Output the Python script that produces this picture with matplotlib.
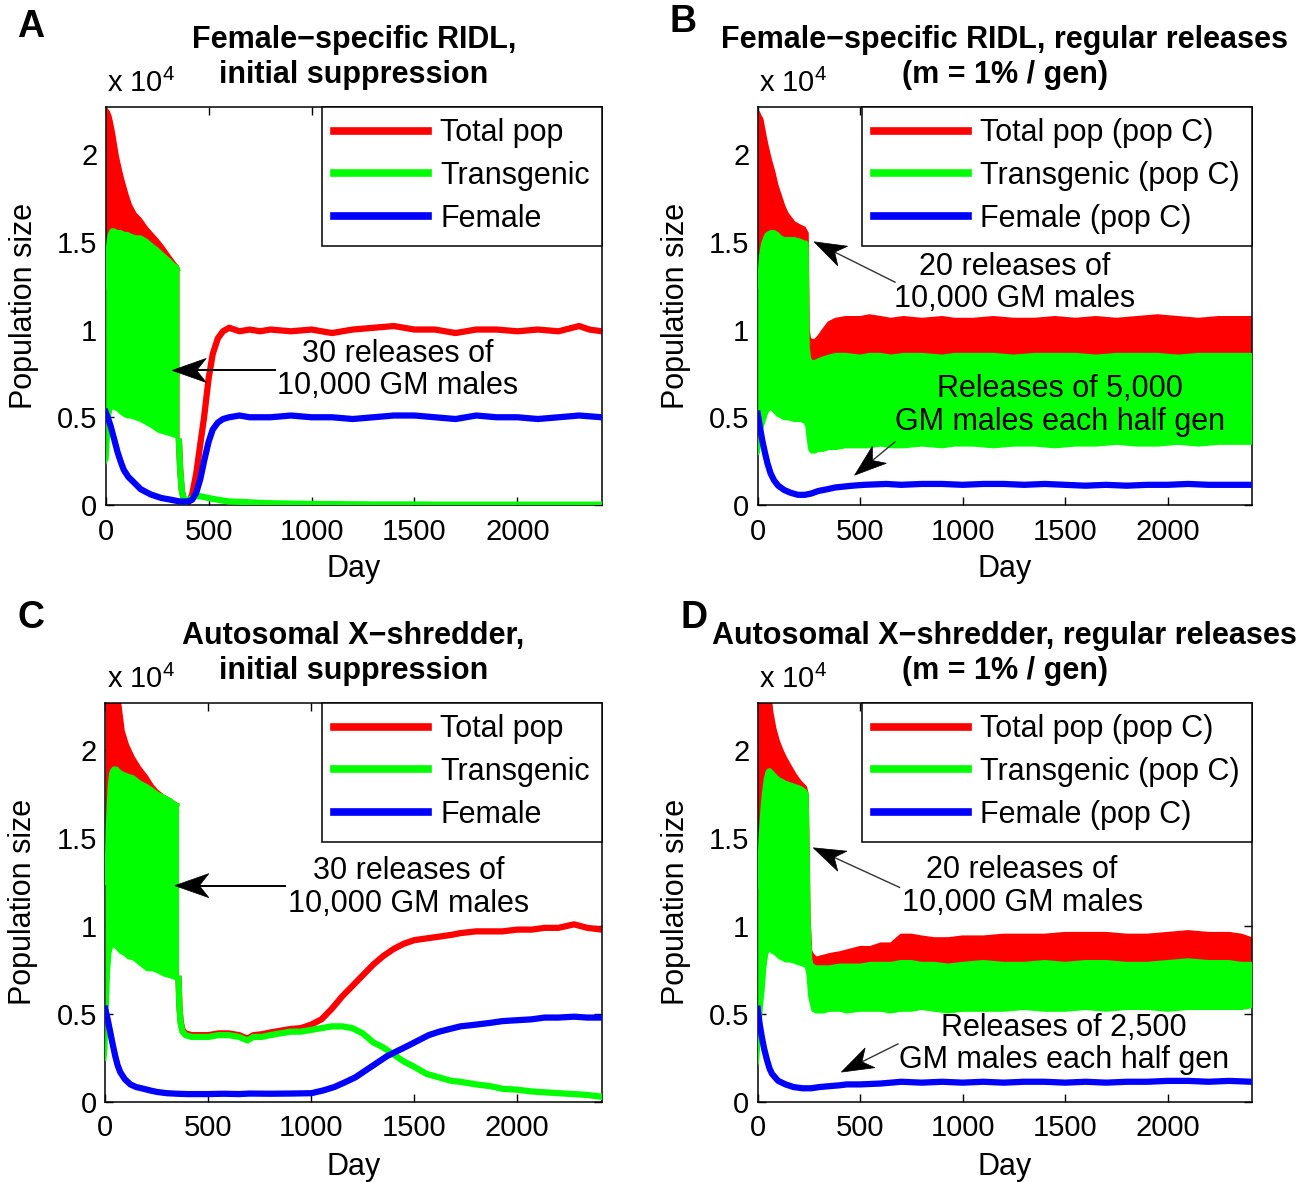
import numpy as np
import matplotlib
matplotlib.use('Agg')
import matplotlib.pyplot as plt
from matplotlib.patches import Polygon
from matplotlib.lines import Line2D
from matplotlib.transforms import IdentityTransform

plt.rcParams['font.family'] = ['Liberation Sans', 'DejaVu Sans']
plt.rcParams['mathtext.fontset'] = 'custom'
plt.rcParams['mathtext.rm'] = 'Liberation Sans'
plt.rcParams['mathtext.it'] = 'Liberation Sans'

# ---------------- data (population in units of 10^4) ----------------
x_ticks = [0, 500, 1000, 1500, 2000]
x_tick_labels = ['0', '500', '1000', '1500', '2000']
y_ticks = [0, 0.5, 1, 1.5, 2]
y_tick_labels = ['0', '0.5', '1', '1.5', '2']

# Panel A
A_band_day = [0, 3, 8, 15, 22, 28, 40, 58, 75, 88, 105, 122, 145, 170, 200, 230, 253, 280, 310, 335, 350, 356]
A_total_hi = [2.26, 2.26, 2.25, 2.24, 2.22, 2.19, 2.12, 1.99, 1.90, 1.84, 1.77, 1.71, 1.66, 1.63, 1.58, 1.54, 1.51, 1.47, 1.42, 1.38, 1.36, 1.34]
A_trans_hi = [1.24, 1.35, 1.48, 1.54, 1.56, 1.57, 1.57, 1.56, 1.56, 1.55, 1.55, 1.54, 1.53, 1.53, 1.51, 1.48, 1.46, 1.43, 1.40, 1.37, 1.36, 1.34]
A_trans_lo = [0.24, 0.25, 0.26, 0.40, 0.52, 0.55, 0.55, 0.54, 0.52, 0.51, 0.50, 0.50, 0.49, 0.48, 0.46, 0.44, 0.42, 0.41, 0.40, 0.39, 0.38, 0.36]
A_line_day = [356, 362, 370, 380, 392, 405, 420, 440, 460, 478, 500, 520, 545, 570, 600, 650, 700, 750, 800, 900,
              1000, 1100, 1200, 1300, 1400, 1500, 1600, 1700, 1800, 1900, 2000, 2100, 2200, 2300, 2350, 2410]
A_total_line = [0.36, 0.20, 0.08, 0.03, 0.01, 0.02, 0.06, 0.18, 0.35, 0.50, 0.72, 0.86, 0.95, 0.99, 1.01, 0.99, 1.00, 0.99, 1.00, 0.99,
                1.00, 0.98, 1.00, 1.01, 1.02, 1.00, 1.00, 0.98, 1.00, 1.00, 0.99, 1.00, 0.99, 1.02, 1.00, 0.99]
A_trans_line = [0.36, 0.20, 0.08, 0.03, 0.02, 0.03, 0.04, 0.05, 0.05, 0.045, 0.04, 0.035, 0.03, 0.025, 0.02, 0.018, 0.015, 0.012, 0.01, 0.008,
                0.006, 0.005, 0.004, 0.003, 0.003, 0.003, 0.002, 0.002, 0.002, 0.002, 0.002, 0.002, 0.002, 0.002, 0.002, 0.002]
A_female_day = [0, 10, 24, 40, 58, 75, 88, 110, 136, 170, 219, 270, 317, 360, 399, 420, 440, 460, 478, 500, 520, 545, 570, 600, 650,
                700, 800, 900, 1000, 1100, 1200, 1300, 1400, 1500, 1600, 1700, 1800, 1900, 2000, 2100, 2200, 2300, 2410]
A_female = [0.53, 0.50, 0.45, 0.38, 0.30, 0.24, 0.20, 0.16, 0.13, 0.09, 0.06, 0.04, 0.03, 0.02, 0.02, 0.03, 0.07, 0.15, 0.25, 0.36,
            0.43, 0.47, 0.49, 0.50, 0.51, 0.50, 0.50, 0.51, 0.50, 0.50, 0.49, 0.50, 0.51, 0.51, 0.50, 0.49, 0.51, 0.50, 0.50, 0.49,
            0.50, 0.51, 0.50]

# Panel B
B_band_day = [0, 5, 12, 22, 38, 47, 63, 80, 96, 113, 130, 146, 179, 210, 229, 238, 243, 248, 254, 262,
              280, 296, 320, 346, 380, 429, 500, 545, 600, 650, 711, 800, 900, 960, 1050, 1150, 1250, 1350, 1450, 1550,
              1650, 1750, 1850, 1950, 2050, 2150, 2250, 2350, 2410]
B_total_hi = [2.24, 2.24, 2.22, 2.20, 2.10, 2.05, 1.97, 1.90, 1.82, 1.76, 1.70, 1.66, 1.61, 1.59, 1.58, 1.56, 1.55, 1.00, 0.95, 0.94,
              0.94, 0.96, 1.00, 1.04, 1.06, 1.07, 1.07, 1.08, 1.07, 1.06, 1.07, 1.06, 1.07, 1.06, 1.06, 1.07, 1.06, 1.06, 1.07, 1.06,
              1.07, 1.06, 1.07, 1.08, 1.07, 1.06, 1.07, 1.07, 1.07]
B_trans_hi = [1.24, 1.30, 1.42, 1.49, 1.54, 1.55, 1.56, 1.56, 1.55, 1.53, 1.52, 1.52, 1.52, 1.51, 1.50, 1.50, 1.49, 0.90, 0.84, 0.82,
              0.82, 0.83, 0.84, 0.85, 0.86, 0.86, 0.85, 0.86, 0.86, 0.85, 0.86, 0.86, 0.85, 0.86, 0.86, 0.86, 0.85, 0.86, 0.86, 0.86,
              0.85, 0.86, 0.86, 0.86, 0.85, 0.86, 0.86, 0.86, 0.86]
B_trans_lo = [0.29, 0.30, 0.38, 0.44, 0.50, 0.53, 0.55, 0.53, 0.51, 0.50, 0.49, 0.49, 0.48, 0.48, 0.47, 0.45, 0.40, 0.35, 0.31, 0.30,
              0.30, 0.31, 0.31, 0.32, 0.32, 0.33, 0.33, 0.33, 0.34, 0.33, 0.33, 0.34, 0.33, 0.34, 0.34, 0.33, 0.34, 0.34, 0.33, 0.34,
              0.34, 0.35, 0.34, 0.34, 0.35, 0.34, 0.35, 0.35, 0.35]
B_female_day = [0, 10, 22, 35, 47, 63, 80, 100, 130, 160, 196, 230, 260, 296, 340, 379, 420, 462, 520, 628,
                700, 800, 900, 1000, 1100, 1200, 1300, 1400, 1500, 1600, 1700, 1800, 1900, 2000, 2100, 2200, 2300, 2410]
B_female = [0.52, 0.45, 0.37, 0.30, 0.24, 0.18, 0.14, 0.11, 0.085, 0.07, 0.058, 0.058, 0.065, 0.08, 0.09, 0.10, 0.105, 0.11, 0.115, 0.12,
            0.115, 0.12, 0.12, 0.115, 0.12, 0.12, 0.115, 0.12, 0.115, 0.11, 0.115, 0.11, 0.115, 0.115, 0.12, 0.115, 0.115, 0.115]

# Panel C
C_band_day = [0, 5, 10, 18, 25, 32, 40, 57, 73, 89, 110, 138, 170, 203, 230, 252, 285, 317, 340, 356]
C_total_hi = [2.35, 2.35, 2.35, 2.35, 2.35, 2.35, 2.35, 2.33, 2.26, 2.11, 2.03, 1.96, 1.90, 1.85, 1.80, 1.77, 1.74, 1.72, 1.70, 1.69]
C_trans_hi = [1.24, 1.40, 1.60, 1.80, 1.87, 1.89, 1.90, 1.90, 1.88, 1.87, 1.86, 1.85, 1.82, 1.80, 1.78, 1.76, 1.74, 1.72, 1.70, 1.69]
C_trans_lo = [0.24, 0.30, 0.50, 0.75, 0.85, 0.88, 0.89, 0.87, 0.85, 0.84, 0.82, 0.81, 0.78, 0.75, 0.75, 0.74, 0.72, 0.71, 0.70, 0.70]
C_line_day = [356, 360, 366, 375, 390, 420, 460, 500, 550, 600, 650, 690, 720, 760, 800, 850, 900, 950, 1000, 1050,
              1100, 1150, 1200, 1250, 1300, 1350, 1400, 1450, 1500, 1560, 1620, 1680, 1724, 1800, 1870, 1929, 2000, 2070, 2133, 2200,
              2276, 2340, 2410]
C_trans_line = [0.70, 0.55, 0.45, 0.40, 0.38, 0.37, 0.37, 0.37, 0.38, 0.38, 0.37, 0.35, 0.37, 0.37, 0.38, 0.39, 0.40, 0.40, 0.41, 0.42,
                0.43, 0.43, 0.42, 0.39, 0.34, 0.31, 0.27, 0.23, 0.20, 0.16, 0.14, 0.12, 0.115, 0.10, 0.09, 0.075, 0.07, 0.06, 0.055, 0.05,
                0.045, 0.04, 0.03]
C_total_line = [0.70, 0.55, 0.46, 0.41, 0.39, 0.38, 0.38, 0.38, 0.39, 0.39, 0.38, 0.36, 0.38, 0.385, 0.395, 0.405, 0.415, 0.42, 0.44, 0.47,
                0.53, 0.60, 0.66, 0.72, 0.78, 0.83, 0.87, 0.90, 0.92, 0.93, 0.94, 0.95, 0.96, 0.97, 0.97, 0.97, 0.98, 0.98, 0.99, 0.99,
                1.01, 0.99, 0.98]
C_female_day = [0, 12, 24, 36, 49, 60, 73, 95, 122, 150, 187, 220, 252, 300, 349, 400, 500, 576, 650, 700,
                800, 900, 1000, 1056, 1112, 1160, 1214, 1265, 1316, 1367, 1418, 1470, 1520, 1570, 1622, 1672, 1724, 1800, 1870, 1929,
                2000, 2070, 2133, 2200, 2276, 2340, 2410]
C_female = [0.53, 0.47, 0.40, 0.33, 0.26, 0.21, 0.17, 0.13, 0.10, 0.085, 0.075, 0.065, 0.057, 0.05, 0.047, 0.045, 0.045, 0.047, 0.045, 0.048,
            0.047, 0.048, 0.05, 0.065, 0.085, 0.11, 0.14, 0.18, 0.22, 0.26, 0.29, 0.32, 0.35, 0.38, 0.40, 0.415, 0.43, 0.44, 0.45, 0.46,
            0.465, 0.47, 0.48, 0.48, 0.485, 0.48, 0.48]

# Panel D
D_band_day = [0, 5, 10, 20, 28, 36, 45, 53, 61, 70, 86, 103, 120, 136, 160, 185, 210, 235, 243, 248,
              252, 260, 268, 285, 320, 351, 400, 434, 500, 550, 600, 650, 699, 750, 798, 860, 930, 1000, 1100, 1200,
              1300, 1400, 1500, 1600, 1700, 1800, 1900, 2000, 2100, 2200, 2300, 2360, 2410]
D_total_hi = [2.35, 2.35, 2.35, 2.35, 2.35, 2.35, 2.35, 2.35, 2.33, 2.22, 2.12, 2.05, 2.00, 1.96, 1.91, 1.86, 1.82, 1.79, 1.75, 1.40,
              1.05, 0.86, 0.84, 0.82, 0.83, 0.84, 0.85, 0.86, 0.88, 0.88, 0.90, 0.90, 0.95, 0.95, 0.94, 0.93, 0.93, 0.94, 0.94, 0.95,
              0.95, 0.95, 0.96, 0.96, 0.96, 0.95, 0.95, 0.96, 0.97, 0.96, 0.96, 0.95, 0.93]
D_trans_hi = [1.22, 1.35, 1.50, 1.68, 1.77, 1.84, 1.88, 1.89, 1.89, 1.88, 1.86, 1.84, 1.83, 1.82, 1.81, 1.80, 1.79, 1.77, 1.75, 1.40,
              1.05, 0.81, 0.78, 0.77, 0.77, 0.77, 0.78, 0.78, 0.78, 0.79, 0.79, 0.79, 0.80, 0.80, 0.79, 0.79, 0.78, 0.79, 0.80, 0.79,
              0.79, 0.80, 0.79, 0.80, 0.80, 0.79, 0.79, 0.80, 0.81, 0.80, 0.80, 0.79, 0.79]
D_trans_lo = [0.22, 0.30, 0.40, 0.55, 0.64, 0.76, 0.84, 0.86, 0.86, 0.85, 0.84, 0.82, 0.81, 0.80, 0.80, 0.79, 0.78, 0.77, 0.73, 0.66,
              0.60, 0.56, 0.52, 0.51, 0.51, 0.52, 0.52, 0.51, 0.52, 0.52, 0.52, 0.51, 0.52, 0.52, 0.53, 0.52, 0.51, 0.52, 0.52, 0.52,
              0.53, 0.52, 0.52, 0.53, 0.52, 0.53, 0.53, 0.52, 0.53, 0.53, 0.53, 0.53, 0.54]
D_female_day = [0, 10, 20, 32, 45, 58, 70, 100, 136, 175, 219, 260, 301, 350, 400, 434, 500, 600, 650, 700,
                800, 900, 1000, 1100, 1200, 1300, 1400, 1500, 1600, 1700, 1800, 1900, 2000, 2100, 2200, 2300, 2410]
D_female = [0.53, 0.44, 0.37, 0.30, 0.24, 0.19, 0.16, 0.12, 0.10, 0.085, 0.078, 0.078, 0.085, 0.09, 0.095, 0.10, 0.10, 0.105, 0.11, 0.115,
            0.11, 0.115, 0.11, 0.115, 0.11, 0.115, 0.115, 0.11, 0.115, 0.11, 0.115, 0.115, 0.12, 0.12, 0.115, 0.12, 0.115]

labels_short = ['Total pop', 'Transgenic', 'Female']
labels_popc = ['Total pop (pop C)', 'Transgenic (pop C)', 'Female (pop C)']
titles = [('Female\u2212specific RIDL,', 'initial suppression'),
          ('Female\u2212specific RIDL, regular releases', '(m = 1% / gen)'),
          ('Autosomal X\u2212shredder,', 'initial suppression'),
          ('Autosomal X\u2212shredder, regular releases', '(m = 1% / gen)')]

RED, GREEN, BLUE = '#ff0000', '#00ff00', '#0000ff'
W, H = 1311, 1182
fig = plt.figure(figsize=(W / 100, H / 100), dpi=100)


def px_rect(left, top, right, bottom):
    return [left / W, 1 - bottom / H, (right - left) / W, (bottom - top) / H]


axA = fig.add_axes(px_rect(105.7, 106.7, 601.7, 505))
axB = fig.add_axes(px_rect(757.7, 106.7, 1251.7, 505))
axC = fig.add_axes(px_rect(105.2, 702.7, 601.7, 1102))
axD = fig.add_axes(px_rect(757.7, 702.7, 1251.7, 1102))


def draw_band(ax, day, tot_hi, tr_hi, tr_lo):
    ax.fill_between(day, tr_lo, tot_hi, color=RED, lw=0, zorder=2)
    ax.plot(day, tot_hi, color=RED, lw=1.8, zorder=2)
    ax.fill_between(day, tr_lo, tr_hi, color=GREEN, lw=0, zorder=3)
    ax.plot(day, tr_hi, color=GREEN, lw=1.8, zorder=3)
    ax.plot(day, tr_lo, color=GREEN, lw=1.8, zorder=3)


def style(ax, title, labels):
    ax.set_xlim(0, 2410)
    ax.set_ylim(0, 2.27)
    ax.set_xticks(x_ticks)
    ax.set_xticklabels(x_tick_labels)
    ax.set_yticks(y_ticks)
    ax.set_yticklabels(y_tick_labels)
    ax.tick_params(direction='in', top=True, right=True, length=6, width=1, labelsize=21)
    ax.tick_params(axis='x', pad=9)
    ax.tick_params(axis='y', pad=6)
    for s in ax.spines.values():
        s.set_linewidth(1.1)
    ax.set_xlabel('Day', fontsize=22)
    ax.xaxis.set_label_coords(0.5, -0.124)
    ax.set_ylabel('Population size', fontsize=22)
    ax.yaxis.set_label_coords(-0.135, 0.5)
    # two-line bold title, one text per line
    ax.text(0.5, 1.1475, title[0], transform=ax.transAxes, fontsize=22, fontweight='bold',
            ha='center', va='baseline')
    ax.text(0.5, 1.060, title[1], transform=ax.transAxes, fontsize=22, fontweight='bold',
            ha='center', va='baseline')
    ax.text(0.003, 1.038, r'x 10$^4$', transform=ax.transAxes, fontsize=21, ha='left', va='baseline')
    handles = [Line2D([], [], color=c, lw=5.5) for c in (RED, GREEN, BLUE)]
    leg = ax.legend(handles, labels, loc='upper right', fontsize=22, frameon=True, fancybox=False,
                    framealpha=1, edgecolor='black', borderaxespad=0, handlelength=3.1,
                    handletextpad=0.4, labelspacing=0.42, borderpad=0.38)
    leg.get_frame().set_linewidth(1.1)
    leg.set_zorder(10)


def vback_arrow(ax, tail, tip, lw, color, L, Wd, notch=0.72):
    t = ax.transData
    p0 = np.array(t.transform(tail))
    p1 = np.array(t.transform(tip))
    d = p1 - p0
    d = d / np.hypot(*d)
    n = np.array([-d[1], d[0]])
    back = p1 - L * d
    mid = p1 - notch * L * d
    fig.add_artist(Line2D([p0[0], mid[0]], [p0[1], mid[1]], color=color, lw=lw,
                          transform=IdentityTransform(), zorder=20))
    fig.add_artist(Polygon([p1, back + Wd * n, mid, back - Wd * n], closed=True,
                           transform=IdentityTransform(), facecolor='black', edgecolor='black',
                           lw=0.5, zorder=21))


# Panel A
draw_band(axA, A_band_day, A_total_hi, A_trans_hi, A_trans_lo)
axA.plot(A_line_day, A_total_line, color=RED, lw=4.5, zorder=2)
axA.plot(A_line_day, A_trans_line, color=GREEN, lw=4.5, zorder=3)
axA.plot(A_female_day, A_female, color=BLUE, lw=4.5, zorder=4)
style(axA, titles[0], labels_short)

# Panel B
draw_band(axB, B_band_day, B_total_hi, B_trans_hi, B_trans_lo)
axB.plot(B_female_day, B_female, color=BLUE, lw=4.5, zorder=4)
style(axB, titles[1], labels_popc)

# Panel C
draw_band(axC, C_band_day, C_total_hi, C_trans_hi, C_trans_lo)
axC.plot(C_line_day, C_total_line, color=RED, lw=4.5, zorder=2)
axC.plot(C_line_day, C_trans_line, color=GREEN, lw=4.5, zorder=3)
axC.plot(C_female_day, C_female, color=BLUE, lw=4.5, zorder=4)
style(axC, titles[2], labels_short)

# Panel D
draw_band(axD, D_band_day, D_total_hi, D_trans_hi, D_trans_lo)
axD.plot(D_female_day, D_female, color=BLUE, lw=4.5, zorder=4)
style(axD, titles[3], labels_popc)

# annotations
ann_kw = dict(fontsize=22, ha='center', va='center', linespacing=1.12, zorder=15)
axA.text(1418, 0.77, '30 releases of\n10,000 GM males', **ann_kw)
vback_arrow(axA, (824, 0.767), (323, 0.767), 1.4, 'black', 34, 12)

axC.text(1473, 1.22, '30 releases of\n10,000 GM males', **ann_kw)
vback_arrow(axC, (873, 1.23), (338, 1.23), 1.4, 'black', 34, 12)

axB.text(1253, 1.265, '20 releases of\n10,000 GM males', **ann_kw)
vback_arrow(axB, (670, 1.27), (275, 1.50), 1.0, '#333333', 32, 11)
axB.text(1473, 0.565, 'Releases of 5,000\nGM males each half gen', **ann_kw)
vback_arrow(axB, (670, 0.36), (473, 0.17), 1.0, '#333333', 32, 11)

axD.text(1290, 1.225, '20 releases of\n10,000 GM males', **ann_kw)
vback_arrow(axD, (692, 1.22), (271, 1.445), 1.0, '#333333', 32, 11)
axD.text(1495, 0.33, 'Releases of 2,500\nGM males each half gen', **ann_kw)
vback_arrow(axD, (684, 0.33), (408, 0.17), 1.0, '#333333', 32, 11)

# panel letters
for letter, (px, py) in zip('ABCD', [(31, 27), (683, 22), (31, 618), (694, 618)]):
    fig.text(px / W, 1 - py / H, letter, fontsize=27, fontweight='bold', ha='center', va='center')

fig.savefig('out.png', dpi=100)
